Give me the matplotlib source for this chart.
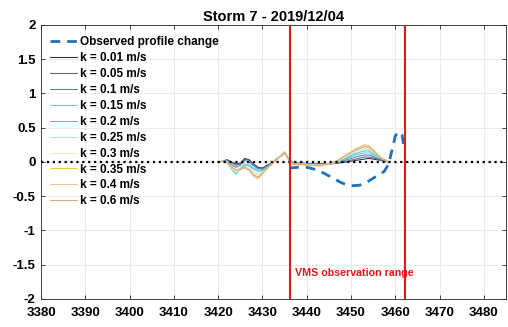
import matplotlib
matplotlib.use('Agg')
import matplotlib.pyplot as plt

plt.rcParams['font.family'] = ['Liberation Sans', 'DejaVu Sans']
plt.rcParams['font.weight'] = 'bold'

# Modelled profile change for each k, on a shared cross-shore grid
x_model = [3420, 3421, 3422, 3423, 3424, 3425, 3426, 3427, 3428, 3429, 3430, 3431,
           3432, 3433, 3434, 3435, 3436, 3437, 3439, 3441, 3443, 3445, 3447, 3449,
           3451, 3453, 3454, 3455, 3456, 3457, 3458, 3458.5]
k_labels = ['k = 0.01 m/s', 'k = 0.05 m/s', 'k = 0.1 m/s', 'k = 0.15 m/s', 'k = 0.2 m/s',
            'k = 0.25 m/s', 'k = 0.3 m/s', 'k = 0.35 m/s', 'k = 0.4 m/s', 'k = 0.6 m/s']
dz_k001 = [0, 0.01, 0.03, 0.0, -0.03, -0.02, 0.05, 0.03, -0.03, -0.08, -0.09, -0.05,
           -0.02, 0.03, 0.08, 0.13, 0.04, -0.02, -0.02, -0.03, -0.03, -0.03, -0.02, 0.0,
           0.02, 0.04, 0.05, 0.04, 0.03, 0.02, 0.01, 0.0]
dz_k005 = [0, 0.01, 0.03, -0.01, -0.05, -0.03, 0.04, 0.02, -0.04, -0.09, -0.1, -0.06,
           -0.02, 0.03, 0.08, 0.13, 0.03, -0.02, -0.02, -0.03, -0.03, -0.03, -0.02, 0.01,
           0.04, 0.07, 0.07, 0.06, 0.04, 0.02, 0.01, 0.0]
dz_k010 = [0, 0.01, 0.02, -0.04, -0.08, -0.05, 0.02, 0.0, -0.06, -0.1, -0.11, -0.07,
           -0.03, 0.03, 0.08, 0.14, 0.03, -0.02, -0.02, -0.03, -0.04, -0.03, -0.01, 0.03,
           0.07, 0.1, 0.1, 0.08, 0.05, 0.03, 0.01, 0.0]
dz_k015 = [0, 0.01, 0.01, -0.09, -0.15, -0.09, -0.03, -0.04, -0.09, -0.12, -0.12, -0.08,
           -0.03, 0.03, 0.08, 0.14, 0.03, -0.03, -0.03, -0.04, -0.04, -0.03, -0.01, 0.05,
           0.1, 0.13, 0.13, 0.1, 0.07, 0.04, 0.02, 0.0]
dz_k020 = [0, 0.01, 0.0, -0.11, -0.18, -0.11, -0.05, -0.06, -0.11, -0.14, -0.13, -0.09,
           -0.04, 0.02, 0.08, 0.14, 0.03, -0.03, -0.03, -0.04, -0.05, -0.03, 0.0, 0.06,
           0.12, 0.16, 0.16, 0.12, 0.08, 0.04, 0.02, 0.0]
dz_k025 = [0, 0.01, 0.0, -0.1, -0.16, -0.12, -0.07, -0.09, -0.15, -0.18, -0.15, -0.1,
           -0.04, 0.02, 0.08, 0.14, 0.02, -0.03, -0.03, -0.04, -0.05, -0.03, 0.01, 0.08,
           0.14, 0.19, 0.18, 0.14, 0.09, 0.05, 0.02, 0.0]
dz_k030 = [0, 0.01, 0.0, -0.08, -0.14, -0.12, -0.08, -0.11, -0.18, -0.21, -0.16, -0.1,
           -0.04, 0.02, 0.08, 0.14, 0.02, -0.04, -0.04, -0.05, -0.05, -0.03, 0.01, 0.09,
           0.16, 0.22, 0.21, 0.16, 0.1, 0.05, 0.02, 0.0]
dz_k035 = [0, 0.01, -0.01, -0.07, -0.12, -0.11, -0.08, -0.12, -0.2, -0.24, -0.17, -0.1,
           -0.04, 0.02, 0.08, 0.15, 0.02, -0.04, -0.04, -0.05, -0.06, -0.03, 0.02, 0.1,
           0.18, 0.24, 0.23, 0.17, 0.11, 0.05, 0.02, 0.0]
dz_k040 = [0, 0.01, -0.01, -0.07, -0.12, -0.11, -0.09, -0.13, -0.21, -0.25, -0.18, -0.1,
           -0.04, 0.02, 0.08, 0.15, 0.02, -0.04, -0.04, -0.05, -0.06, -0.03, 0.02, 0.11,
           0.19, 0.25, 0.24, 0.18, 0.11, 0.05, 0.02, 0.0]
dz_k060 = [0, 0.01, -0.01, -0.07, -0.12, -0.11, -0.08, -0.12, -0.19, -0.22, -0.17, -0.1,
           -0.04, 0.02, 0.08, 0.14, 0.02, -0.04, -0.04, -0.05, -0.05, -0.03, 0.02, 0.1,
           0.17, 0.22, 0.21, 0.16, 0.1, 0.05, 0.02, 0.0]
k_colors = ['#2e2e5e', '#62628f', '#5585a3', '#7cc0dc', '#4ccaca',
            '#b4e6df', '#eeedb6', '#e2cf4a', '#e8c994', '#e6a57a']

# Observed profile change
x_obs = [3436, 3438, 3440, 3442, 3444, 3446, 3448, 3450, 3452, 3454, 3456, 3457.5,
         3458.5, 3459.3, 3460, 3460.8, 3461.5, 3462]
dz_obs = [-0.09, -0.08, -0.08, -0.11, -0.17, -0.24, -0.31, -0.35, -0.34, -0.28, -0.2,
          -0.14, -0.03, 0.18, 0.38, 0.44, 0.4, 0.2]

# VMS observation range
vms_range = [3436.2, 3462.2]

fig = plt.figure(figsize=(5.08, 3.27), dpi=100)
ax = fig.add_axes([0.081, 0.086, 0.915, 0.838])

ax.plot(x_obs, dz_obs, '--', color='#1f72b8', lw=2, dashes=(3.5, 2.5),
        label='Observed profile change', zorder=4)
series = [dz_k001, dz_k005, dz_k010, dz_k015, dz_k020,
          dz_k025, dz_k030, dz_k035, dz_k040, dz_k060]
for dz, lab, c in zip(series, k_labels, k_colors):
    ax.plot(x_model, dz, color=c, lw=0.75, label=lab, zorder=3)

ax.axhline(0, color='black', ls=':', lw=1.6, zorder=5)
for xv in vms_range:
    ax.axvline(xv, color='#e8161b', lw=1.5, zorder=6)
ax.text(3437.3, -1.62, 'VMS observation range', color='#e8161b', fontsize=7.7,
        fontweight='bold', va='center')

ax.set_xlim(3380, 3485)
ax.set_ylim(-2, 2)
ax.set_xticks(range(3380, 3481, 10))
ax.set_yticks([-2, -1.5, -1, -0.5, 0, 0.5, 1, 1.5, 2])
ax.set_yticklabels(['-2', '-1.5', '-1', '-0.5', '0', '0.5', '1', '1.5', '2'])
ax.grid(True, color='#e8e8e8', lw=0.6)
ax.set_axisbelow(True)
ax.tick_params(direction='in', top=True, right=True, labelsize=9.5, length=3,
               width=0.6, color='#262626')
ax.tick_params(axis='x', pad=6)
ax.tick_params(axis='y', pad=4)
for s in ax.spines.values():
    s.set_color('#262626')
    s.set_linewidth(0.6)
ax.set_title('Storm 7 - 2019/12/04', fontsize=10.5, fontweight='bold', pad=3)

leg = ax.legend(loc='upper left', frameon=False, fontsize=8.5, labelspacing=0.33,
                handlelength=2.3, handletextpad=0.25, borderaxespad=0.0,
                bbox_to_anchor=(0.008, 0.975))
leg.set_zorder(2)

fig.savefig('out.png', dpi=100)
